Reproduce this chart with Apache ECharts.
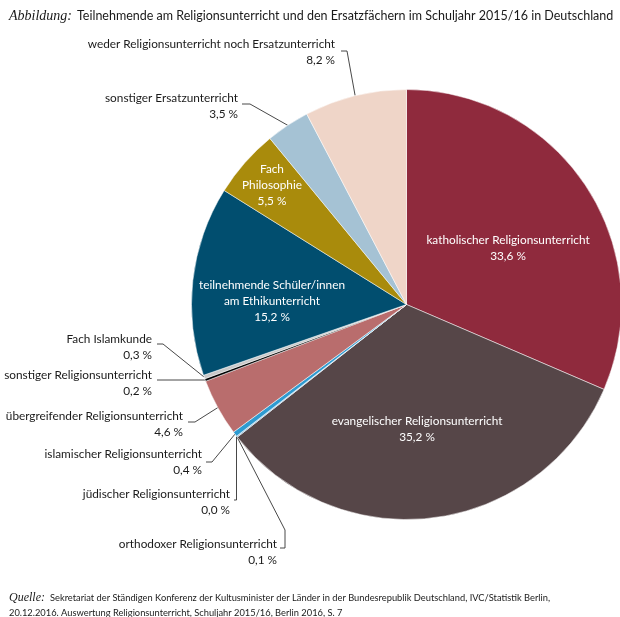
<!DOCTYPE html>
<html><head><meta charset="utf-8">
<script src="https://cdn.jsdelivr.net/npm/echarts@6/dist/echarts.min.js"></script>
<style>html,body{margin:0;padding:0;background:#fff}#c{width:620px;height:617px}</style>
</head><body><div id="c"></div>
<script>
// ---- data ----
const categories = [
  'katholischer Religionsunterricht',
  'evangelischer Religionsunterricht',
  'orthodoxer Religionsunterricht',
  'jüdischer Religionsunterricht',
  'islamischer Religionsunterricht',
  'übergreifender Religionsunterricht',
  'sonstiger Religionsunterricht',
  'Fach Islamkunde',
  'teilnehmende Schüler/innen\nam Ethikunterricht',
  'Fach\nPhilosophie',
  'sonstiger Ersatzunterricht',
  'weder Religionsunterricht noch Ersatzunterricht'
];
const values = [33.6, 35.2, 0.1, 0.0, 0.4, 4.6, 0.2, 0.3, 15.2, 5.5, 3.5, 8.2];
const titleText = 'Teilnehmende am Religionsunterricht und den Ersatzfächern im Schuljahr 2015/16 in Deutschland';
const sourceLine1 = 'Sekretariat der Ständigen Konferenz der Kultusminister der Länder in der Bundesrepublik Deutschland, IVC/Statistik Berlin,';
const sourceLine2 = '20.12.2016. Auswertung Religionsunterricht, Schuljahr 2015/16, Berlin 2016, S. 7';

// ---- styles / layout ----
const colors = ['#8F2A3D', '#564648', '#8FB7D4', '#3A3A3A', '#2E9BD1', '#B96D6D', '#000000', '#C9C9C9', '#014E6F', '#A98B0C', '#A5C2D4', '#EFD5C8'];
const inside = [true, true, false, false, false, false, false, false, true, true, false, false];
const CX = 406.5, CY = 304.5, R = 215;
// label anchor (x,y) and leader bend points (null = reuse start coordinate)
const labelPos = [
  {x: 508, y: 248, align: 'center'},
  {x: 417, y: 429, align: 'center'},
  {x: 277, y: 552, align: 'right', bend: [[285, 530], [285, 548], [280, 548]]},
  {x: 230, y: 502, align: 'right', bend: [[null, 500], [234, 500]]},
  {x: 202, y: 462, align: 'right', bend: [[212, 462], [206, 462]]},
  {x: 183, y: 424, align: 'right', bend: [[195, 422], [188, 422]]},
  {x: 152, y: 383, align: 'right', bend: [[157, null]]},
  {x: 152, y: 347, align: 'right', bend: [[163, 344], [157, 344]]},
  {x: 272, y: 301, align: 'center'},
  {x: 272, y: 185, align: 'center'},
  {x: 238, y: 106, align: 'right', bend: [[250, 104], [242, 104]]},
  {x: 335, y: 52, align: 'right', bend: [[347, 51], [341, 51]]}
];

const total = values.reduce((a, b) => a + b, 0);
function edgePoint(i) {
  let before = 0;
  for (let k = 0; k < i; k++) before += values[k];
  const a = (before + values[i] / 2) / total * 2 * Math.PI;
  return [CX + R * Math.sin(a), CY - R * Math.cos(a)];
}
const fmt = v => v.toFixed(1).replace('.', ',') + ' %';

const data = categories.map((name, i) => ({
  name: name,
  value: values[i],
  itemStyle: {color: colors[i]},
  label: inside[i]
    ? {position: 'inside', color: '#ffffff'}
    : {position: 'outside', color: '#1a1a1a'},
  labelLine: {show: !inside[i]}
}));

const chart = echarts.init(document.getElementById('c'), null, {renderer: 'canvas'});
chart.setOption({
  animation: false,
  backgroundColor: '#ffffff',
  title: [{
    left: 4, top: 2,
    text: '{i|Abbildung:} {n|' + titleText + '}',
    textStyle: {
      fontWeight: 'normal',
      rich: {
        i: {fontFamily: 'Liberation Serif', fontStyle: 'italic', fontWeight: 'normal', fontSize: 14, color: '#1a1a1a'},
        n: {fontFamily: 'Lato', fontWeight: 'normal', fontSize: 12.5, color: '#1a1a1a'}
      }
    }
  }, {
    left: 4, top: 585,
    text: '{i|Quelle:} {n|' + sourceLine1 + '}\n{n|' + sourceLine2 + '}',
    textStyle: {
      fontWeight: 'normal',
      lineHeight: 15,
      rich: {
        i: {fontFamily: 'Liberation Serif', fontStyle: 'italic', fontWeight: 'normal', fontSize: 12, color: '#1a1a1a', lineHeight: 15},
        n: {fontFamily: 'Lato', fontWeight: 'normal', fontSize: 9.3, color: '#1a1a1a', lineHeight: 15}
      }
    }
  }],
  series: [{
    type: 'pie',
    center: [CX, CY],
    radius: R,
    startAngle: 90,
    clockwise: true,
    avoidLabelOverlap: false,
    silent: true,
    itemStyle: {borderColor: '#ffffff', borderWidth: 0.5},
    label: {
      fontFamily: 'Lato', fontSize: 11.8, lineHeight: 16,
      formatter: p => p.name + '\n' + fmt(p.value)
    },
    labelLine: {lineStyle: {color: '#333333', width: 0.9}},
    labelLayout: function (p) {
      const L = labelPos[p.dataIndex];
      const out = {x: L.x, y: L.y, align: L.align, verticalAlign: 'middle'};
      if (L.bend) {
        const s = edgePoint(p.dataIndex);
        out.labelLinePoints = [s].concat(L.bend.map(b => [b[0] === null ? s[0] : b[0], b[1] === null ? s[1] : b[1]]));
      }
      return out;
    },
    data: data
  }]
});
</script>
</body></html>
